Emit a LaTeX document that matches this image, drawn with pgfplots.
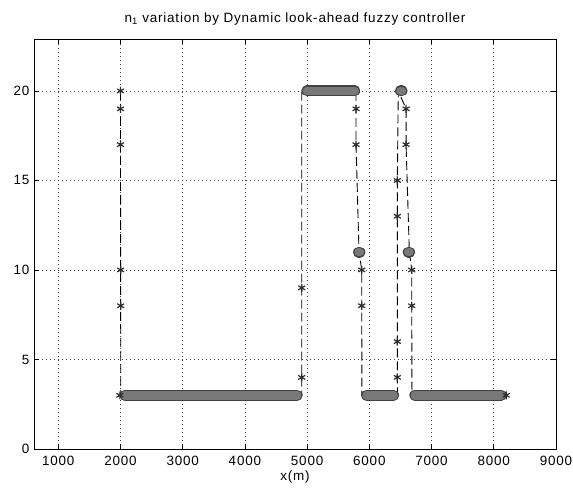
\documentclass[border=0pt]{standalone}
\usepackage{pgfplots}
\pgfplotsset{compat=1.18}
\usepackage{fontspec}
\setmainfont{Liberation Sans}[LetterSpace=6]
\definecolor{bardark}{RGB}{65,65,65}
\definecolor{barfill}{RGB}{120,120,120}
\definecolor{markc}{RGB}{45,45,45}
\begin{document}
\begin{tikzpicture}
\fontsize{13.5}{15}\selectfont
\useasboundingbox (-34bp,-43bp) rectangle (539bp,449bp);
\begin{axis}[
    scale only axis,
    width=522bp, height=410bp,
    xmin=610, xmax=9000,
    ymin=0, ymax=22.9,
    xtick={1000,2000,...,9000},
    ytick={0,5,10,15,20},
    tick align=inside,
    major tick length=5bp,
    axis line style={line width=0.8bp},
    tick style={black, line width=0.6bp},
    grid=major,
    major grid style={black!75, line width=0.6bp, dash pattern=on 1bp off 3bp},
    /pgf/number format/assume math mode=true,
    /pgf/number format/set thousands separator={},
    xticklabel style={yshift=-2bp},
    xlabel={x(m)},
    xlabel style={yshift=4bp},
    title={n\textsubscript{1} variation by Dynamic look-ahead fuzzy controller},
    title style={yshift=3bp, font={\fontsize{13.5}{15}\selectfont\addfontfeature{LetterSpace=6}}},
]
% transitions of n1 (dashed line below the bands)
\addplot[black, line width=0.9bp, dash pattern=on 9bp off 4bp, forget plot] coordinates {
    (2000,20) (2000,19) (2000,17) (2003,10) (2003,8) (2005,3)
    (4913,3) (4913,4) (4913,9) (4913,20)
    (5786,20) (5786,19) (5786,17) (5834,11) (5878,10) (5878,8) (5880,3)
    (6450,3) (6450,4) (6450,6) (6450,13) (6450,15) (6465,20)
    (6590,19) (6590,17) (6643,11) (6681,10) (6681,8) (6685,3)
    (8150,3)
};
% plateaus of n1 (dense samples, drawn as thick bands)
\foreach \pl in {
    {(2070,3) (4840,3)},
    {(4995,20) (5765,20)},
    {(5826,11) (5848,11)},
    {(5955,3) (6390,3)},
    {(6500,20) (6525,20)},
    {(6625,11) (6647,11)},
    {(6730,3) (8120,3)}}{
  \addplot[bardark, line width=11bp, line cap=round, forget plot] coordinates \pl;
  \addplot[barfill, line width=8.5bp, line cap=round, forget plot] coordinates \pl;
}
% single samples on the transitions
\addplot[only marks, mark=asterisk, mark size=4bp,
    mark options={markc, line width=1.2bp}] coordinates {
    (2000,20) (2000,19) (2000,17) (2003,10) (2003,8)
    (4913,4) (4913,9)
    (5786,19) (5786,17) (5878,10) (5878,8)
    (6450,4) (6450,6) (6450,13) (6450,15)
    (6590,19) (6590,17) (6681,10) (6681,8)
    (1990,3) (8200,3)
};
\end{axis}
\end{tikzpicture}
\end{document}
